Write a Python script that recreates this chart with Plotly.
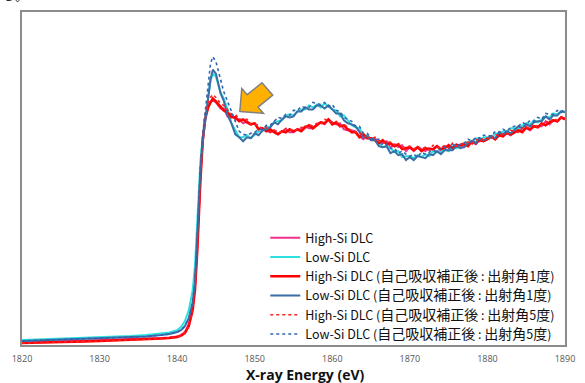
import plotly.graph_objects as go

# Photon energy (eV)
energy = [1820, 1822, 1824, 1826, 1828, 1830, 1832, 1834, 1836, 1838, 1839, 1840, 1840.5,
          1841, 1841.5, 1842, 1842.3, 1842.6, 1843, 1843.3, 1843.6, 1844, 1844.3, 1844.6,
          1845, 1845.3, 1845.6,
          1846, 1846.5, 1847, 1847.5, 1848, 1848.5, 1849, 1849.5, 1850, 1850.5,
          1851, 1851.5, 1852, 1852.5, 1853, 1853.5, 1854, 1854.5, 1855, 1855.5,
          1856, 1856.5, 1857, 1857.5, 1858, 1858.5, 1859, 1859.5, 1860, 1860.5,
          1861, 1861.5, 1862, 1862.5, 1863, 1863.5, 1864, 1864.5, 1865, 1865.5,
          1866, 1866.5, 1867, 1867.5, 1868, 1868.5, 1869, 1869.5, 1870, 1870.5,
          1871, 1871.5, 1872, 1872.5, 1873, 1873.5, 1874, 1874.5, 1875, 1875.5,
          1876, 1876.5, 1877, 1877.5, 1878, 1878.5, 1879, 1879.5, 1880, 1880.5,
          1881, 1881.5, 1882, 1882.5, 1883, 1883.5, 1884, 1884.5, 1885, 1885.5,
          1886, 1886.5, 1887, 1887.5, 1888, 1888.5, 1889, 1889.5, 1890]

# Intensity (arbitrary units)
high_si_raw = [2.5, 3, 3.2, 3.6, 4, 4.5, 5, 5.5, 6, 7, 7.5, 8.5, 10, 13, 21, 38, 58, 100, 170, 206,
               228, 240, 244, 246, 244, 241, 238,
               238, 230, 232, 227, 227, 223, 225, 222, 223, 217,
               218, 216, 214, 216, 212, 215, 217, 214, 214, 217,
               217, 220, 218, 218, 222, 224, 222, 227, 224, 222,
               223, 217, 216, 216, 215, 210, 207, 210, 207, 208,
               203, 203, 205, 199, 202, 199, 201, 195, 199, 195,
               199, 197, 195, 198, 197, 200, 196, 200, 199, 199,
               202, 200, 199, 203, 204, 202, 207, 205, 207, 209,
               207, 212, 210, 213, 211, 214, 217, 215, 218, 216,
               220, 220, 220, 225, 222, 226, 225, 229, 228]

low_si_raw = [5, 5.5, 6, 6.5, 7, 7.5, 8, 9, 10, 11.5, 12.5, 15, 18, 24, 35, 55, 80, 125, 185, 210,
              228, 252, 266, 273, 270, 262, 254,
              248, 237, 223, 216, 209, 209, 211, 208, 212, 215,
              215, 220, 219, 224, 225, 226, 231, 232, 231, 235,
              237, 237, 241, 239, 242, 239, 243, 240, 237, 236,
              230, 231, 226, 221, 219, 218, 211, 211, 206, 207,
              203, 199, 200, 198, 194, 195, 189, 190, 190, 188,
              191, 189, 192, 190, 195, 194, 194, 197, 195, 200,
              198, 200, 203, 204, 203, 208, 206, 209, 209, 208,
              213, 212, 215, 214, 218, 218, 217, 221, 223, 222,
              226, 224, 227, 230, 229, 233, 232, 235, 235]

high_si_corr1 = [2, 2.2, 2.5, 3, 3.5, 4, 4.5, 5, 5.5, 6.5, 7, 8, 9.5, 12, 19, 35, 55, 95, 165, 205,
                 227, 239, 244, 248, 245, 242, 239,
                 236, 234, 229, 229, 225, 227, 224, 222, 223, 217,
                 218, 215, 217, 214, 212, 215, 214, 217, 215, 217,
                 215, 219, 221, 218, 221, 224, 223, 227, 222, 224,
                 220, 221, 217, 214, 214, 209, 212, 208, 208, 206,
                 203, 206, 202, 203, 200, 202, 197, 198, 199, 196,
                 199, 195, 198, 197, 197, 200, 197, 198, 201, 198,
                 201, 201, 202, 200, 205, 203, 206, 205, 207, 210,
                 207, 211, 210, 214, 212, 214, 216, 214, 219, 217,
                 220, 219, 223, 221, 224, 226, 225, 229, 227]

low_si_corr1 = [4, 4.5, 5, 5.5, 6, 6.5, 7, 8, 8.5, 10, 11, 13, 15, 19, 27, 43, 63, 110, 175, 205,
                223, 250, 267, 277, 273, 263, 253,
                246, 231, 223, 212, 209, 205, 209, 208, 213, 211,
                216, 217, 219, 224, 222, 227, 230, 229, 230, 235,
                235, 239, 237, 237, 241, 241, 238, 241, 237, 233,
                233, 226, 223, 222, 220, 214, 209, 210, 206, 206,
                200, 199, 200, 193, 195, 191, 192, 186, 189, 186,
                190, 189, 188, 192, 191, 195, 192, 196, 196, 196,
                200, 198, 199, 203, 205, 203, 208, 206, 208, 210,
                208, 214, 212, 215, 213, 217, 220, 218, 222, 220,
                224, 225, 225, 230, 227, 231, 231, 235, 234]

high_si_corr5 = [2, 2.2, 2.5, 3, 3.5, 4, 4.5, 5, 5.5, 6.5, 7, 8, 9.5, 12, 19, 35, 56, 97, 168, 208,
                 232, 244, 249, 252, 249, 246, 243,
                 241, 237, 232, 232, 227, 227, 227, 222, 222, 221,
                 217, 219, 214, 216, 215, 214, 218, 217, 215, 217,
                 219, 218, 222, 220, 223, 222, 227, 226, 224, 225,
                 220, 222, 219, 215, 214, 214, 209, 211, 207, 209,
                 206, 203, 205, 204, 201, 203, 198, 199, 200, 197,
                 200, 197, 199, 196, 201, 199, 198, 201, 198, 203,
                 200, 202, 203, 204, 202, 207, 205, 208, 208, 207,
                 212, 210, 213, 212, 216, 215, 214, 218, 219, 218,
                 222, 219, 222, 225, 224, 228, 226, 229, 229]

low_si_corr5 = [4, 4.5, 5, 5.5, 6, 6.5, 7, 8, 8.5, 10, 11, 13, 15, 19, 27, 43, 63, 108, 180, 212,
                235, 265, 283, 290, 285, 276, 266,
                255, 245, 235, 224, 215, 212, 211, 213, 214, 217,
                217, 221, 221, 225, 229, 228, 232, 231, 236, 236,
                240, 239, 239, 244, 243, 242, 244, 240, 242, 236,
                235, 229, 227, 225, 220, 220, 213, 213, 208, 207,
                207, 201, 202, 198, 198, 193, 195, 192, 190, 192,
                189, 194, 192, 194, 196, 194, 198, 199, 197, 202,
                200, 202, 203, 207, 205, 209, 208, 211, 211, 210,
                215, 214, 217, 215, 219, 220, 220, 224, 222, 226,
                225, 229, 227, 233, 232, 232, 236, 234, 238]

x_ticks = [1820, 1830, 1840, 1850, 1860, 1870, 1880, 1890]


def jp(s):
    return f'<span style="font-size:14px">{s}</span>'


names = ["High-Si DLC", "Low-Si DLC",
         f"High-Si DLC ({jp('自己吸収補正後')} : {jp('出射角')}1{jp('度')})",
         f"Low-Si DLC ({jp('自己吸収補正後')} : {jp('出射角')}1{jp('度')})",
         f"High-Si DLC ({jp('自己吸収補正後')} : {jp('出射角')}5{jp('度')})",
         f"Low-Si DLC ({jp('自己吸収補正後')} : {jp('出射角')}5{jp('度')})"]
series = [high_si_raw, low_si_raw, high_si_corr1, low_si_corr1, high_si_corr5, low_si_corr5]
styles = [dict(color="#F0308C", width=2, dash="solid"),
          dict(color="#2FE0E0", width=2, dash="solid"),
          dict(color="#FF0000", width=2.5, dash="solid"),
          dict(color="#3A6EA5", width=2, dash="solid"),
          dict(color="#FF2020", width=1.6, dash="dot"),
          dict(color="#2E66B0", width=1.6, dash="dot")]

fig = go.Figure()
for n, s, st in zip(names, series, styles):
    fig.add_trace(go.Scatter(x=energy, y=s, mode="lines", name=n, line=st))

# orange block arrow (annotation)
arrow = [(1848.08, 235), (1851.13, 233), (1850.43, 239.3), (1852.33, 251.3),
         (1850.94, 263.8), (1849.03, 251.8), (1848.33, 258)]
path = "M " + " L ".join(f"{a},{b}" for a, b in arrow) + " Z"
fig.add_shape(type="path", path=path, xref="x", yref="y",
              fillcolor="#FFB000", line=dict(color="#808080", width=1.5))

fig.update_layout(
    width=585, height=383,
    margin=dict(l=22, r=12, t=10, b=38),
    paper_bgcolor="white", plot_bgcolor="white",
    showlegend=True,
    legend=dict(x=0.448, y=0.366, xanchor="left", yanchor="top",
                bgcolor="rgba(255,255,255,0)", borderwidth=0,
                font=dict(family="Noto Sans CJK JP", size=12.5, color="#111"),
                tracegroupgap=0, itemwidth=30),
    font=dict(family="Noto Sans CJK JP"),
)
fig.update_xaxes(range=[1820, 1890], tickvals=x_ticks, ticktext=[str(t) for t in x_ticks],
                 showgrid=False, zeroline=False, showline=True, mirror=True,
                 linecolor="#8C8C8C", linewidth=2,
                 ticks="outside", ticklen=4, tickcolor="rgba(0,0,0,0)",
                 tickfont=dict(family="Open Sans", size=9, color="#555"))
fig.update_yaxes(range=[0, 335], showticklabels=False, showgrid=False, zeroline=False,
                 showline=True, mirror=True, linecolor="#8C8C8C", linewidth=2, ticks="")

fig.add_annotation(text="<b>X-ray Energy (eV)</b>", xref="paper", yref="paper",
                   x=0.522, y=-0.088, xanchor="center", yanchor="middle", showarrow=False,
                   font=dict(family="Open Sans", size=14, color="#111"))
fig.add_annotation(text="る。", xref="paper", yref="paper", x=-0.04, y=1.017,
                   xanchor="left", yanchor="bottom", showarrow=False,
                   font=dict(family="Noto Sans CJK JP", size=13, color="#222"))

fig.write_html("out.html")
